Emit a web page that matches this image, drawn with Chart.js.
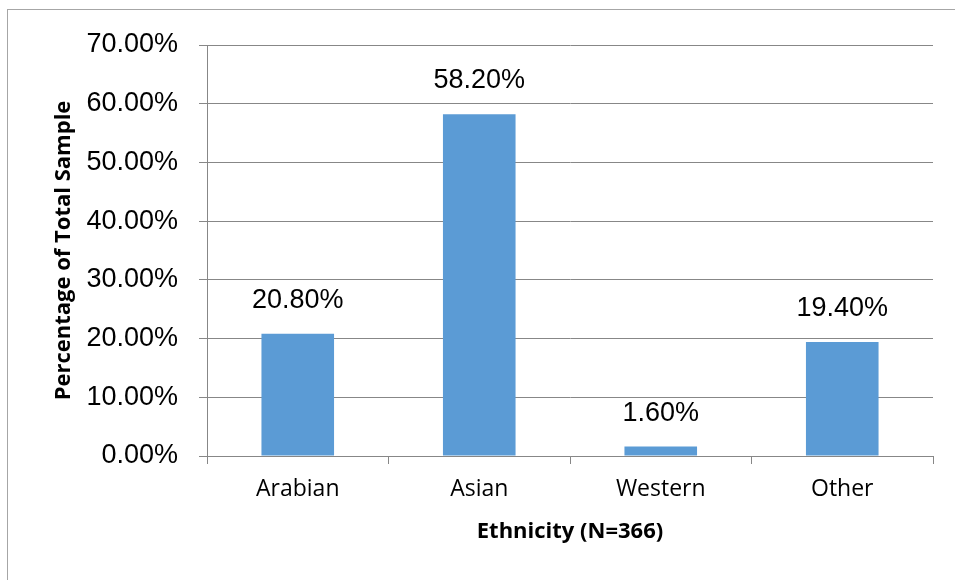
<!DOCTYPE html>
<html>
<head>
<meta charset="utf-8">
<script src="https://cdn.jsdelivr.net/npm/chart.js@4"></script>
<style>
  body { margin: 0; background: #fff; }
  #wrap { position: relative; width: 955px; height: 580px; }
  #frame { position: absolute; left: 7px; top: 9px; right: 0; bottom: 0;
           border-left: 1px solid #a6a6a6; border-top: 1px solid #a6a6a6; }
  canvas { position: absolute; left: 0; top: 0; }
</style>
</head>
<body>
<div id="wrap">
  <div id="frame"></div>
  <canvas id="chart" width="955" height="580"></canvas>
</div>
<script>
// Données
const categories = ['Arabian', 'Asian', 'Western', 'Other'];
const percentages = [20.8, 58.2, 1.6, 19.4];
const yTicks = [0, 10, 20, 30, 40, 50, 60, 70];

// étiquettes de valeur au-dessus des barres
const valueLabels = {
    id: 'valueLabels',
    afterDatasetsDraw(chart) {
        const ctx = chart.ctx;
        const meta = chart.getDatasetMeta(0);
        ctx.save();
        ctx.font = '27px "Liberation Sans", Arial, sans-serif';
        ctx.fillStyle = '#000';
        ctx.textAlign = 'center';
        ctx.textBaseline = 'alphabetic';
        meta.data.forEach((bar, i) => {
            ctx.fillText(percentages[i].toFixed(2) + '%', bar.x, bar.y - 26);
        });
        ctx.restore();
    }
};

const ctx = document.getElementById('chart').getContext('2d');
const myChart = new Chart(ctx, {
    type: 'bar',
    data: {
        labels: categories,
        datasets: [{
            data: percentages,
            backgroundColor: '#5b9bd5',
            borderWidth: 0,
            barPercentage: 0.4,
            categoryPercentage: 1
        }]
    },
    options: {
        responsive: false,
        animation: false,
        layout: { padding: { left: 0, top: 45, right: 22, bottom: 0 } },
        plugins: {
            legend: { display: false },
            tooltip: { enabled: false }
        },
        scales: {
            y: {
                min: 0,
                max: 70,
                afterFit: s => { s.width = 207; },
                afterBuildTicks: s => { s.ticks = yTicks.map(v => ({ value: v })); },
                grid: { color: '#878787', tickLength: 8, lineWidth: 1 },
                border: { color: '#878787' },
                ticks: {
                    padding: 21,
                    color: '#000',
                    font: { family: '"Liberation Sans", Arial, sans-serif', size: 27 },
                    callback: v => v.toFixed(2) + '%'
                },
                title: {
                    display: true,
                    text: 'Percentage of Total Sample',
                    color: '#000',
                    font: { family: '"Open Sans", sans-serif', size: 22, weight: 'bold' },
                    padding: { top: 51 }
                }
            },
            x: {
                afterFit: s => { s.height = 124; },
                grid: { offset: true, drawOnChartArea: false, color: '#878787', tickLength: 8 },
                border: { color: '#878787' },
                ticks: {
                    padding: 12,
                    color: '#000',
                    font: { family: '"Open Sans", sans-serif', size: 23 }
                },
                title: {
                    display: true,
                    text: 'Ethnicity (N=366)',
                    color: '#000',
                    font: { family: '"Open Sans", sans-serif', size: 22, weight: 'bold' },
                    padding: { bottom: 35 }
                }
            }
        }
    },
    plugins: [valueLabels]
});
</script>
</body>
</html>
